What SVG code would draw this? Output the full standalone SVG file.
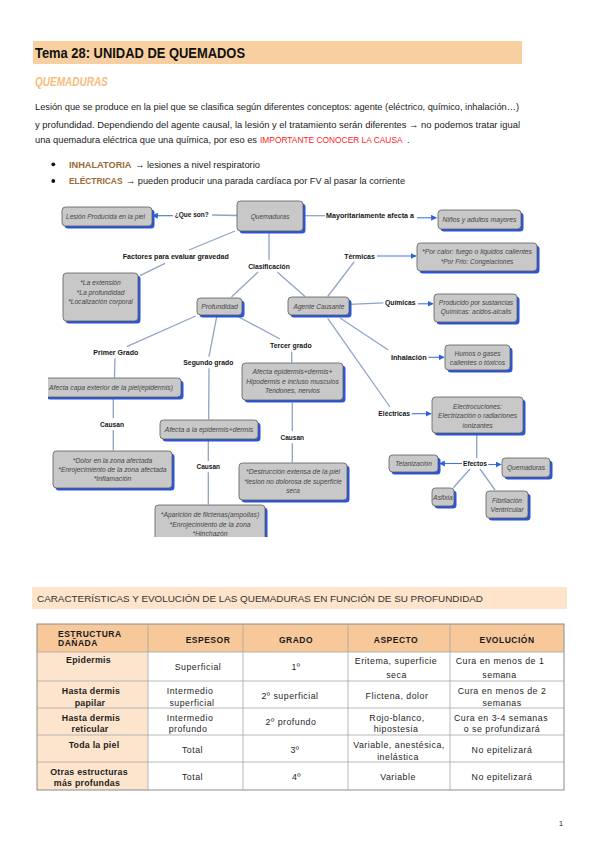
<svg xmlns="http://www.w3.org/2000/svg" width="599" height="848" viewBox="0 0 599 848">
<style>
text{font-family:"Liberation Sans",Arial,sans-serif}
.nt{font-size:8px;font-style:italic;fill:#464646;text-anchor:middle;dominant-baseline:central}
.lb{font-size:8px;font-weight:bold;fill:#151515;text-anchor:middle;dominant-baseline:central}
.bx{fill:#c8c8c8;stroke:#5c5c5c;stroke-width:.8}
.sh{fill:#2a55d6}
.ln{stroke:#8fa3c7;stroke-width:1.3;fill:none}
.ar{stroke:#4574e0;stroke-width:1.1;fill:none;marker-end:url(#ah)}
.td{font-size:8.8px;fill:#1e1e1e;text-anchor:middle;letter-spacing:.5px;dominant-baseline:central}
.tb{font-size:8.8px;font-weight:bold;fill:#1e1e1e;text-anchor:middle;letter-spacing:.25px;dominant-baseline:central}
.th{font-size:8.5px;font-weight:bold;fill:#1a1a1a;text-anchor:middle;letter-spacing:.5px;dominant-baseline:central}
.gl{stroke:#a6a6a6;stroke-width:.8}
.p{font-size:9.3px;fill:#222}
</style>
<defs>
<marker id="ah" viewBox="0 0 10 10" refX="9" refY="5" markerWidth="6" markerHeight="6" markerUnits="userSpaceOnUse" orient="auto"><path d="M0,0 L10,5 L0,10 z" fill="#2d5fe0"/></marker>
<clipPath id="mapclip"><rect x="48" y="196" width="516" height="341"/></clipPath>
</defs>
<rect width="599" height="848" fill="#ffffff"/>

<!-- Header -->
<rect x="33" y="41" width="489" height="23" fill="#f8cfa0"/>
<text x="35" y="57.5" font-size="14.5" font-weight="bold" fill="#111" textLength="210" lengthAdjust="spacingAndGlyphs">Tema 28: UNIDAD DE QUEMADOS</text>
<text x="35" y="85.5" font-size="12" font-weight="bold" font-style="italic" fill="#f9bc7c" textLength="73" lengthAdjust="spacingAndGlyphs">QUEMADURAS</text>

<text class="p" x="35" y="110" textLength="484" lengthAdjust="spacingAndGlyphs">Lesión que se produce en la piel que se clasifica según diferentes conceptos: agente (eléctrico, químico, inhalación…)</text>
<text class="p" x="35" y="128" textLength="485" lengthAdjust="spacingAndGlyphs">y profundidad. Dependiendo del agente causal, la lesión y el tratamiento serán diferentes → no podemos tratar igual</text>
<text class="p" x="35" y="143" textLength="222" lengthAdjust="spacingAndGlyphs">una quemadura eléctrica que una química, por eso es</text>
<text x="260" y="143" font-size="8.4" fill="#ff1a1a">IMPORTANTE CONOCER LA CAUSA</text>
<text class="p" x="407" y="143">.</text>

<circle cx="53.3" cy="164.3" r="1.9" fill="#111"/>
<text x="69" y="167.5" font-size="9.3" font-weight="bold" fill="#9a6a32" textLength="62.5" lengthAdjust="spacingAndGlyphs">INHALATORIA</text>
<text class="p" x="135" y="167.5" textLength="125" lengthAdjust="spacingAndGlyphs">→ lesiones a nivel respiratorio</text>
<circle cx="53.3" cy="181" r="1.9" fill="#111"/>
<text x="69" y="184.3" font-size="9.3" font-weight="bold" fill="#9a6a32" textLength="53.5" lengthAdjust="spacingAndGlyphs">ELÉCTRICAS</text>
<text class="p" x="126" y="184.3" textLength="279" lengthAdjust="spacingAndGlyphs">→ pueden producir una parada cardíaca por FV al pasar la corriente</text>

<!-- Concept map -->
<g clip-path="url(#mapclip)">
<g id="connectors">
<line class="ln" x1="237" y1="215.5" x2="212" y2="215"/>
<line class="ar" x1="173" y1="215.7" x2="152.5" y2="215.7"/>
<line class="ln" x1="303" y1="215.7" x2="325" y2="215.7"/>
<line class="ar" x1="417" y1="217.8" x2="436.5" y2="217.8"/>
<line class="ln" x1="235" y1="231" x2="189" y2="250"/>
<line class="ln" x1="165" y1="263.3" x2="140" y2="275.7"/>
<line class="ln" x1="269" y1="231" x2="269" y2="260"/>
<line class="ln" x1="258" y1="272" x2="231.5" y2="297"/>
<line class="ln" x1="277.5" y1="272.3" x2="305" y2="296.5"/>
<line class="ln" x1="327.7" y1="296.5" x2="354.3" y2="261.7"/>
<line class="ar" x1="377" y1="256" x2="416" y2="256"/>
<line class="ln" x1="349.5" y1="304.3" x2="383.3" y2="302.8"/>
<line class="ar" x1="418" y1="303.8" x2="433" y2="303.8"/>
<line class="ln" x1="340" y1="318" x2="388.3" y2="350"/>
<line class="ar" x1="428.5" y1="357.3" x2="444" y2="357.3"/>
<line class="ln" x1="327.7" y1="318.3" x2="390" y2="407"/>
<line class="ar" x1="411.7" y1="413.7" x2="431" y2="413.7"/>
<line class="ln" x1="476.7" y1="434" x2="476.7" y2="458.3"/>
<line class="ar" x1="462" y1="463.5" x2="439.5" y2="463.5"/>
<line class="ar" x1="488.3" y1="464.5" x2="501" y2="464.5"/>
<line class="ln" x1="470" y1="469" x2="453.3" y2="487.7"/>
<line class="ln" x1="480" y1="469" x2="495" y2="490"/>
<line class="ln" x1="195.7" y1="316" x2="126.7" y2="346.7"/>
<line class="ln" x1="216.7" y1="316.7" x2="209" y2="356.7"/>
<line class="ln" x1="238.3" y1="316.7" x2="280" y2="339"/>
<line class="ln" x1="115" y1="358.3" x2="114.5" y2="377.7"/>
<line class="ln" x1="113.3" y1="398.5" x2="113.3" y2="418.3"/>
<line class="ln" x1="113.3" y1="430" x2="113.3" y2="450.5"/>
<line class="ln" x1="209" y1="368.3" x2="208.7" y2="419.5"/>
<line class="ln" x1="208.3" y1="441" x2="208.3" y2="461"/>
<line class="ln" x1="208.3" y1="472.3" x2="208.3" y2="504.5"/>
<line class="ln" x1="291.7" y1="351.7" x2="291.7" y2="362.5"/>
<line class="ln" x1="292.3" y1="402.5" x2="292.3" y2="431"/>
<line class="ln" x1="292.3" y1="443.3" x2="292.3" y2="462.5"/>
</g>

<g id="labels">
<g id="l-queson"><text class="lb" x="191.7" y="214.3" textLength="34" lengthAdjust="spacingAndGlyphs">¿Que son?</text></g>
<g id="l-mayor"><text class="lb" x="370" y="215.7" textLength="88" lengthAdjust="spacingAndGlyphs">Mayoritariamente afecta a</text></g>
<g id="l-factores"><text class="lb" x="175.8" y="256" textLength="106" lengthAdjust="spacingAndGlyphs">Factores para evaluar gravedad</text></g>
<g id="l-clasif"><text class="lb" x="269" y="266" textLength="41.7" lengthAdjust="spacingAndGlyphs">Clasificación</text></g>
<g id="l-termicas"><text class="lb" x="359.5" y="256" textLength="30.7" lengthAdjust="spacingAndGlyphs">Térmicas</text></g>
<g id="l-quimicas"><text class="lb" x="400.3" y="302.3" textLength="30.7" lengthAdjust="spacingAndGlyphs">Químicas</text></g>
<g id="l-inhalacion"><text class="lb" x="408.8" y="357" textLength="35.7" lengthAdjust="spacingAndGlyphs">Inhalación</text></g>
<g id="l-electricas"><text class="lb" x="394.2" y="413.7" textLength="31.7" lengthAdjust="spacingAndGlyphs">Eléctricas</text></g>
<g id="l-efectos"><text class="lb" x="475" y="463.3" textLength="24" lengthAdjust="spacingAndGlyphs">Efectos</text></g>
<g id="l-primer"><text class="lb" x="115.8" y="352.3" textLength="45" lengthAdjust="spacingAndGlyphs">Primer Grado</text></g>
<g id="l-segundo"><text class="lb" x="208.3" y="362.3" textLength="50" lengthAdjust="spacingAndGlyphs">Segundo grado</text></g>
<g id="l-tercer"><text class="lb" x="290.8" y="345.7" textLength="41.7" lengthAdjust="spacingAndGlyphs">Tercer grado</text></g>
<g id="l-causan1"><text class="lb" x="112" y="424.3" textLength="24" lengthAdjust="spacingAndGlyphs">Causan</text></g>
<g id="l-causan2"><text class="lb" x="208.3" y="466.7" textLength="23.5" lengthAdjust="spacingAndGlyphs">Causan</text></g>
<g id="l-causan3"><text class="lb" x="292.3" y="437.3" textLength="23.5" lengthAdjust="spacingAndGlyphs">Causan</text></g>
</g>

<g id="n-quemaduras"><rect class="sh" x="239.5" y="203.5" width="66" height="30" rx="3.5"/><rect class="bx" x="237" y="201" width="66" height="30" rx="3.5"/><text class="nt" x="270" y="216" textLength="38.7" lengthAdjust="spacingAndGlyphs">Quemaduras</text></g>
<g id="n-lesion"><rect class="sh" x="64.5" y="209.5" width="90" height="19" rx="3.5"/><rect class="bx" x="62" y="207" width="90" height="19" rx="3.5"/><text class="nt" x="105.5" y="216.5" textLength="79" lengthAdjust="spacingAndGlyphs">Lesión Producida en la piel</text></g>
<g id="n-ninos"><rect class="sh" x="440.5" y="212.5" width="83" height="19" rx="3.5"/><rect class="bx" x="438" y="210" width="83" height="19" rx="3.5"/><text class="nt" x="479.5" y="219.5" textLength="74" lengthAdjust="spacingAndGlyphs">Niños y adultos mayores</text></g>
<g id="n-factores"><rect class="sh" x="65.5" y="275.5" width="75" height="48" rx="3.5"/><rect class="bx" x="63" y="273" width="75" height="48" rx="3.5"/><text class="nt" x="100.5" y="282.7" textLength="40.7" lengthAdjust="spacingAndGlyphs">*La extensión</text><text class="nt" x="100.5" y="292.3" textLength="48" lengthAdjust="spacingAndGlyphs">*La profundidad</text><text class="nt" x="100.5" y="301.7" textLength="64.7" lengthAdjust="spacingAndGlyphs">*Localización corporal</text></g>
<g id="n-profundidad"><rect class="sh" x="199.5" y="300.5" width="45" height="17" rx="3.5"/><rect class="bx" x="197" y="298" width="45" height="17" rx="3.5"/><text class="nt" x="219.5" y="306.3" textLength="36.7" lengthAdjust="spacingAndGlyphs">Profundidad</text></g>
<g id="n-agente"><rect class="sh" x="290.5" y="299.5" width="61" height="18" rx="3.5"/><rect class="bx" x="288" y="297" width="61" height="18" rx="3.5"/><text class="nt" x="319" y="306" textLength="51" lengthAdjust="spacingAndGlyphs">Agente Causante</text></g>
<g id="n-termicas"><rect class="sh" x="419.5" y="245.5" width="120" height="28" rx="3.5"/><rect class="bx" x="417" y="243" width="120" height="28" rx="3.5"/><text class="nt" x="477" y="251.7" textLength="110" lengthAdjust="spacingAndGlyphs">*Por calor: fuego o liquidos calientes</text><text class="nt" x="477" y="261" textLength="72.7" lengthAdjust="spacingAndGlyphs">*Por Frio: Congelaciones</text></g>
<g id="n-quimicas"><rect class="sh" x="436.5" y="296.5" width="83" height="28" rx="3.5"/><rect class="bx" x="434" y="294" width="83" height="28" rx="3.5"/><text class="nt" x="476" y="302.3" textLength="74.3" lengthAdjust="spacingAndGlyphs">Producido por sustancias</text><text class="nt" x="476" y="311.7" textLength="70.7" lengthAdjust="spacingAndGlyphs">Químicas: acidos-alcalis</text></g>
<g id="n-inhalacion"><rect class="sh" x="447.5" y="347.5" width="65" height="25" rx="3.5"/><rect class="bx" x="445" y="345" width="65" height="25" rx="3.5"/><text class="nt" x="477.5" y="353.3" textLength="46" lengthAdjust="spacingAndGlyphs">Humos o gases</text><text class="nt" x="477.5" y="362.7" textLength="55.3" lengthAdjust="spacingAndGlyphs">calientes o tóxicos</text></g>
<g id="n-electricas"><rect class="sh" x="434.5" y="399.5" width="91" height="36" rx="3.5"/><rect class="bx" x="432" y="397" width="91" height="36" rx="3.5"/><text class="nt" x="477.5" y="406" textLength="49" lengthAdjust="spacingAndGlyphs">Electrocuciones:</text><text class="nt" x="477.5" y="415.7" textLength="79" lengthAdjust="spacingAndGlyphs">Electrización o radiaciones</text><text class="nt" x="477.5" y="425" textLength="30" lengthAdjust="spacingAndGlyphs">ionizantes</text></g>
<g id="n-tetanizacion"><rect class="sh" x="391.5" y="457.5" width="49" height="17" rx="3.5"/><rect class="bx" x="389" y="455" width="49" height="17" rx="3.5"/><text class="nt" x="413.5" y="463.5" textLength="36.7" lengthAdjust="spacingAndGlyphs">Tetanización</text></g>
<g id="n-quemaduras2"><rect class="sh" x="504.5" y="460.5" width="48" height="19" rx="3.5"/><rect class="bx" x="502" y="458" width="48" height="19" rx="3.5"/><text class="nt" x="526" y="467.5" textLength="38" lengthAdjust="spacingAndGlyphs">Quemaduras</text></g>
<g id="n-asfixia"><rect class="sh" x="434.5" y="490.5" width="22" height="18" rx="3.5"/><rect class="bx" x="432" y="488" width="22" height="18" rx="3.5"/><text class="nt" x="443" y="497" textLength="19.3" lengthAdjust="spacingAndGlyphs">Asfixia</text></g>
<g id="n-fibrilacion"><rect class="sh" x="488.5" y="493.5" width="42" height="27" rx="3.5"/><rect class="bx" x="486" y="491" width="42" height="27" rx="3.5"/><text class="nt" x="507" y="500" textLength="30" lengthAdjust="spacingAndGlyphs">Fibrilación</text><text class="nt" x="507" y="509.7" textLength="33" lengthAdjust="spacingAndGlyphs">Ventricular</text></g>
<g id="n-primer"><rect class="sh" x="46.5" y="380.5" width="137" height="19" rx="3.5"/><rect class="bx" x="44" y="378" width="137" height="19" rx="3.5"/><text class="nt" x="111" y="387.5" textLength="124" lengthAdjust="spacingAndGlyphs">Afecta capa exterior de la piel(epidermis)</text></g>
<g id="n-segundo"><rect class="sh" x="162.5" y="422.5" width="98" height="19" rx="3.5"/><rect class="bx" x="160" y="420" width="98" height="19" rx="3.5"/><text class="nt" x="209" y="429" textLength="88.3" lengthAdjust="spacingAndGlyphs">Afecta a la epidermis+dermis</text></g>
<g id="n-tercer"><rect class="sh" x="244.5" y="365.5" width="101" height="37" rx="3.5"/><rect class="bx" x="242" y="363" width="101" height="37" rx="3.5"/><text class="nt" x="292.5" y="371.7" textLength="80" lengthAdjust="spacingAndGlyphs">Afecta epidermis+dermis+</text><text class="nt" x="292.5" y="381" textLength="92.7" lengthAdjust="spacingAndGlyphs">Hipodermis e incluso musculos</text><text class="nt" x="292.5" y="390.7" textLength="55" lengthAdjust="spacingAndGlyphs">Tendones, nervios</text></g>
<g id="n-dolor"><rect class="sh" x="55.5" y="453.5" width="119" height="37" rx="3.5"/><rect class="bx" x="53" y="451" width="119" height="37" rx="3.5"/><text class="nt" x="112.5" y="460" textLength="79.3" lengthAdjust="spacingAndGlyphs">*Dolor en la zona afectada</text><text class="nt" x="112.5" y="469.3" textLength="108.3" lengthAdjust="spacingAndGlyphs">*Enrojecimiento de la zona afectada</text><text class="nt" x="112.5" y="478.3" textLength="37.7" lengthAdjust="spacingAndGlyphs">*Inflamación</text></g>
<g id="n-destruccion"><rect class="sh" x="241.5" y="465.5" width="108" height="37" rx="3.5"/><rect class="bx" x="239" y="463" width="108" height="37" rx="3.5"/><text class="nt" x="293" y="471.7" textLength="94" lengthAdjust="spacingAndGlyphs">*Destrucción extensa de la piel</text><text class="nt" x="293" y="481" textLength="97.7" lengthAdjust="spacingAndGlyphs">*lesion no dolorosa de superficie</text><text class="nt" x="293" y="490.7" textLength="13.3" lengthAdjust="spacingAndGlyphs">seca</text></g>
<g id="n-aparicion"><rect class="sh" x="157.5" y="507.5" width="110" height="40" rx="3.5"/><rect class="bx" x="155" y="505" width="110" height="40" rx="3.5"/><text class="nt" x="210" y="514.3" textLength="98.3" lengthAdjust="spacingAndGlyphs">*Aparición de flictenas(ampollas)</text><text class="nt" x="210" y="524" textLength="81" lengthAdjust="spacingAndGlyphs">*Enrojecimiento de la zona</text><text class="nt" x="210" y="533.3" textLength="35" lengthAdjust="spacingAndGlyphs">*Hinchazón</text></g>
</g>

<!-- Section heading -->
<rect x="32" y="587" width="535" height="22" fill="#fde4cb"/>
<text x="37" y="602" font-size="9" fill="#333" textLength="446" lengthAdjust="spacingAndGlyphs">CARACTERÍSTICAS Y EVOLUCIÓN DE LAS QUEMADURAS EN FUNCIÓN DE SU PROFUNDIDAD</text>

<!-- Table -->
<g id="table">
<rect x="37" y="624" width="527" height="28" fill="#f7c89a"/>
<rect x="37" y="652" width="111" height="138" fill="#fce4cd"/>
<rect x="37" y="624" width="527" height="166" fill="none" stroke="#8c8c8c" stroke-width="1"/>
<line class="gl" x1="37" y1="652" x2="564" y2="652"/>
<line class="gl" x1="37" y1="681" x2="564" y2="681"/>
<line class="gl" x1="37" y1="708" x2="564" y2="708"/>
<line class="gl" x1="37" y1="735" x2="564" y2="735"/>
<line class="gl" x1="37" y1="762" x2="564" y2="762"/>
<line class="gl" x1="148" y1="624" x2="148" y2="790"/>
<line class="gl" x1="243" y1="624" x2="243" y2="790"/>
<line class="gl" x1="348" y1="624" x2="348" y2="790"/>
<line class="gl" x1="450" y1="624" x2="450" y2="790"/>

<text class="th" x="58" y="633.7" style="text-anchor:start">ESTRUCTURA</text>
<text class="th" x="58" y="643.3" style="text-anchor:start">DAÑADA</text>
<text class="th" x="208" y="640">ESPESOR</text>
<text class="th" x="296" y="640">GRADO</text>
<text class="th" x="396" y="640">ASPECTO</text>
<text class="th" x="507" y="640">EVOLUCIÓN</text>

<text class="tb" x="88.5" y="660">Epidermis</text>
<text class="td" x="198" y="666.5">Superficial</text>
<text class="td" x="296" y="666.5">1º</text>
<text class="td" x="396" y="661">Eritema, superficie</text>
<text class="td" x="396.5" y="675">seca</text>
<text class="td" x="500" y="661">Cura en menos de 1</text>
<text class="td" x="499.5" y="675">semana</text>

<text class="tb" x="91" y="691">Hasta dermis</text>
<text class="tb" x="90" y="702.7">papilar</text>
<text class="td" x="190" y="691">Intermedio</text>
<text class="td" x="192" y="702.7">superficial</text>
<text class="td" x="290" y="695.7">2º superficial</text>
<text class="td" x="397" y="695.7">Flictena, dolor</text>
<text class="td" x="502" y="691">Cura en menos de 2</text>
<text class="td" x="502" y="702.7">semanas</text>

<text class="tb" x="91" y="717.7">Hasta dermis</text>
<text class="tb" x="90" y="729.3">reticular</text>
<text class="td" x="190" y="717.7">Intermedio</text>
<text class="td" x="188" y="729.3">profundo</text>
<text class="td" x="291" y="721.7">2º profundo</text>
<text class="td" x="397" y="717.7">Rojo-blanco,</text>
<text class="td" x="396" y="729.3">hipostesia</text>
<text class="td" x="501" y="717.7">Cura en 3-4 semanas</text>
<text class="td" x="502" y="729.3">o se profundizará</text>

<text class="tb" x="94" y="745">Toda la piel</text>
<text class="td" x="192.5" y="750">Total</text>
<text class="td" x="295" y="750">3º</text>
<text class="td" x="399" y="745">Variable, anestésica,</text>
<text class="td" x="398" y="756.7">inelástica</text>
<text class="td" x="502" y="750">No epitelizará</text>

<text class="tb" x="89" y="771.7">Otras estructuras</text>
<text class="tb" x="87" y="783.3">más profundas</text>
<text class="td" x="192.5" y="776.7">Total</text>
<text class="td" x="296.5" y="776.7">4º</text>
<text class="td" x="398" y="776.7">Variable</text>
<text class="td" x="502" y="776.7">No epitelizará</text>
</g>

<text x="561" y="826" font-size="8" fill="#333" text-anchor="middle">1</text>
</svg>
